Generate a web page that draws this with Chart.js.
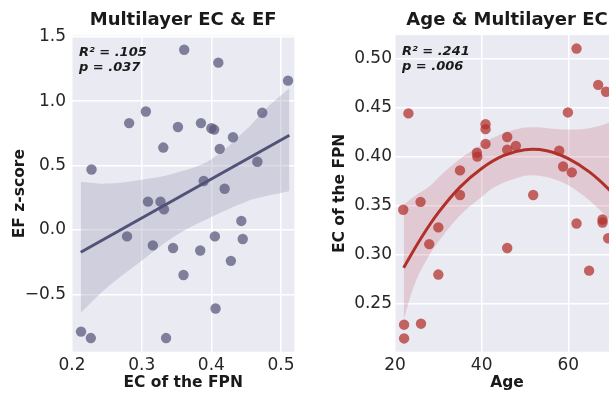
<!DOCTYPE html>
<html>
<head>
<meta charset="utf-8">
<script src="https://cdn.jsdelivr.net/npm/chart.js@4.4.1/dist/chart.umd.min.js"></script>
<style>
  html, body { margin: 0; padding: 0; background: #fff; overflow: hidden; }
  #wrap { position: relative; width: 609px; height: 394px; overflow: hidden; }
  #left { position: absolute; left: 0; top: 0; }
  #right { position: absolute; left: 300px; top: 0; }
</style>
</head>
<body>
<div id="wrap">
  <canvas id="left" width="300" height="394"></canvas>
  <canvas id="right" width="330" height="394"></canvas>
</div>
<script>
// ─── LEFT PANEL: EC of the FPN vs EF z-score ────────────────────
const ecFpn = [0.361, 0.410, 0.510, 0.306, 0.282, 0.473, 0.352, 0.385, 0.400, 0.404, 0.431,
  0.331, 0.412, 0.228, 0.466, 0.389, 0.419, 0.309, 0.327, 0.332, 0.443, 0.279, 0.316,
  0.405, 0.445, 0.345, 0.384, 0.428, 0.360, 0.406, 0.213, 0.227, 0.335];
const efZ = [1.40, 1.30, 1.16, 0.92, 0.83, 0.91, 0.80, 0.83, 0.79, 0.78, 0.72,
  0.64, 0.63, 0.47, 0.53, 0.38, 0.32, 0.22, 0.22, 0.16, 0.07, -0.05, -0.12,
  -0.05, -0.07, -0.14, -0.16, -0.24, -0.35, -0.61, -0.79, -0.84, -0.84];
const efFitX = [0.2125, 0.512];
const efFitY = [-0.173, 0.736];
const efBandX = [0.2125, 0.25, 0.30, 0.35, 0.40, 0.45, 0.48, 0.512];
const efBandHi = [0.373, 0.36, 0.39, 0.445, 0.55, 0.78, 0.95, 1.10];
const efBandLo = [-0.644, -0.45, -0.24, -0.04, 0.10, 0.22, 0.265, 0.30];
const efXTicks = [0.2, 0.3, 0.4, 0.5];
const efXLabels = ['0.2', '0.3', '0.4', '0.5'];
const efYTicks = [-0.5, 0, 0.5, 1.0, 1.5];
const efYLabels = ['\u22120.5', '0.0', '0.5', '1.0', '1.5'];
const efStats = ['R\u00b2 = .105', 'p = .037'];

// ─── RIGHT PANEL: Age vs EC of the FPN ──────────────────────────
const age = [23.1, 59.9, 40.9, 40.9, 40.9, 38.9, 39.0, 45.9, 45.9, 47.9, 57.9,
  58.8, 60.8, 35.0, 35.0, 51.9, 25.9, 21.9, 30.0, 27.9, 45.9, 30.0, 61.9,
  64.8, 67.9, 67.9, 69.2, 61.9, 66.9, 68.7, 22.1, 22.1, 26.0];
const ecAge = [0.444, 0.445, 0.433, 0.428, 0.413, 0.404, 0.400, 0.420, 0.407, 0.411, 0.406,
  0.390, 0.384, 0.386, 0.361, 0.361, 0.354, 0.346, 0.328, 0.311, 0.307, 0.280, 0.332,
  0.284, 0.336, 0.333, 0.317, 0.510, 0.473, 0.466, 0.229, 0.215, 0.230];
const ageFitX = [22, 26, 30, 35, 40, 45, 50, 55, 60, 65, 70, 72];
const ageFitY = [0.287, 0.317, 0.343, 0.369, 0.388, 0.401, 0.407, 0.406, 0.398, 0.384, 0.364, 0.354];
const ageBandX = [22, 24.6, 27.7, 31.5, 35.4, 40, 43, 48, 52, 58, 63, 67.7, 72];
const ageBandHi = [0.351, 0.360, 0.369, 0.385, 0.399, 0.412, 0.420, 0.428, 0.430, 0.428, 0.428, 0.432, 0.440];
const ageBandLo = [0.234, 0.271, 0.298, 0.322, 0.342, 0.359, 0.369, 0.378, 0.381, 0.375, 0.362, 0.344, 0.325];
const ageXTicks = [20, 40, 60];
const ageXLabels = ['20', '40', '60'];
const ageYTicks = [0.25, 0.30, 0.35, 0.40, 0.45, 0.50];
const ageYLabels = ['0.25', '0.30', '0.35', '0.40', '0.45', '0.50'];
const ageStats = ['R\u00b2 = .241', 'p = .006'];

Chart.defaults.font.family = "'DejaVu Sans', sans-serif";
Chart.defaults.color = '#262626';

const zip = (xs, ys) => xs.map((x, i) => ({ x, y: ys[i] }));
const labelFor = (ticks, labels) => (v) => {
  const i = ticks.findIndex(t => Math.abs(t - v) < 1e-9);
  return i < 0 ? '' : labels[i];
};

// seaborn darkgrid face
const panelBg = {
  id: 'panelBg',
  beforeDraw(chart) {
    const { ctx, chartArea: a } = chart;
    ctx.save();
    ctx.fillStyle = '#eaeaf2';
    ctx.fillRect(a.left, a.top, a.right - a.left, a.bottom - a.top);
    ctx.restore();
  },
};

// R² / p text in the upper-left corner
const statsText = {
  id: 'statsText',
  afterDraw(chart, args, opts) {
    const { ctx, chartArea: a } = chart;
    ctx.save();
    ctx.font = "italic bold 13px 'DejaVu Sans'";
    ctx.fillStyle = '#1a1a1a';
    ctx.textBaseline = 'middle';
    opts.lines.forEach((t, i) => ctx.fillText(t, a.left + opts.dx, a.top + opts.dy + i * opts.gap));
    ctx.restore();
  },
};

function makePanel(id, p) {
  return new Chart(document.getElementById(id), {
    type: 'scatter',
    data: {
      datasets: [
        {
          type: 'line', data: zip(p.bandX, p.bandHi), borderWidth: 0, pointRadius: 0,
          backgroundColor: p.bandColor, fill: '+1', tension: 0.4, order: 4,
        },
        {
          type: 'line', data: zip(p.bandX, p.bandLo), borderWidth: 0, pointRadius: 0,
          fill: false, tension: 0.4, order: 5,
        },
        {
          data: zip(p.x, p.y), pointRadius: 5.2, pointHoverRadius: 5.2, pointBorderWidth: 0,
          pointBackgroundColor: p.pointColor, order: 3,
        },
        {
          type: 'line', data: zip(p.fitX, p.fitY), borderColor: p.lineColor, borderWidth: 3,
          pointRadius: 0, fill: false, tension: 0.4, order: 1,
        },
      ],
    },
    options: {
      responsive: false,
      animation: false,
      layout: { padding: { left: 0, right: p.padRight, top: 0, bottom: 0 } },
      plugins: {
        legend: { display: false },
        tooltip: { enabled: false },
        title: {
          display: true, text: p.title, fullSize: false,
          font: { size: 18, weight: 'bold', lineHeight: 1.2 },
          padding: { top: 9.5, bottom: p.titleGap }, color: '#1a1a1a',
        },
        statsText: { lines: p.stats, dx: 7, dy: 17, gap: 15 },
      },
      scales: {
        x: {
          type: 'linear', min: p.xMin, max: p.xMax,
          afterBuildTicks: (s) => { s.ticks = p.xTicks.map(v => ({ value: v })); },
          afterFit: (s) => { s.height = 394 - p.bottom; },
          grid: { color: '#ffffff', lineWidth: 1.5, drawTicks: false },
          border: { display: false },
          ticks: { font: { size: 17 }, padding: 4, callback: labelFor(p.xTicks, p.xLabels) },
          title: {
            display: true, text: p.xTitle, color: '#1a1a1a',
            font: { size: 15.5, weight: 'bold', lineHeight: 1.2 }, padding: { top: 0, bottom: 1.4 },
          },
        },
        y: {
          type: 'linear', min: p.yMin, max: p.yMax,
          afterBuildTicks: (s) => { s.ticks = p.yTicks.map(v => ({ value: v })); },
          afterFit: (s) => { s.width = p.left; },
          grid: { color: '#ffffff', lineWidth: 1.5, drawTicks: false },
          border: { display: false },
          ticks: { font: { size: 17 }, padding: p.tickPad, callback: labelFor(p.yTicks, p.yLabels) },
          title: {
            display: true, text: p.yTitle, color: '#1a1a1a',
            font: { size: 15.5, weight: 'bold', lineHeight: 1.2 }, padding: { top: p.yTitleX - 9.3, bottom: 0 },
          },
        },
      },
    },
    plugins: [panelBg, statsText],
  });
}

makePanel('left', {
  title: 'Multilayer EC & EF', xTitle: 'EC of the FPN', yTitle: 'EF z-score',
  x: ecFpn, y: efZ, fitX: efFitX, fitY: efFitY,
  bandX: efBandX, bandHi: efBandHi, bandLo: efBandLo,
  xTicks: efXTicks, xLabels: efXLabels, yTicks: efYTicks, yLabels: efYLabels,
  stats: efStats,
  xMin: 0.2, xMax: 0.519, yMin: -0.946, yMax: 1.51,
  left: 72, padRight: 5.7, bottom: 351.7, titleGap: 4.5, tickPad: 6, yTitleX: 20,
  pointColor: 'rgba(86, 86, 122, 0.72)', lineColor: '#525278', bandColor: 'rgba(150, 150, 178, 0.32)',
});

makePanel('right', {
  title: 'Age & Multilayer EC', xTitle: 'Age', yTitle: 'EC of the FPN',
  x: age, y: ecAge, fitX: ageFitX, fitY: ageFitY,
  bandX: ageBandX, bandHi: ageBandHi, bandLo: ageBandLo,
  xTicks: ageXTicks, xLabels: ageXLabels, yTicks: ageYTicks, yLabels: ageYLabels,
  stats: ageStats,
  xMin: 20, xMax: 71.7, yMin: 0.2015, yMax: 0.5237,
  left: 95, padRight: 11, bottom: 351.7, titleGap: 4, tickPad: 3, yTitleX: 40,
  pointColor: 'rgba(178, 50, 45, 0.74)', lineColor: '#b0302a', bandColor: 'rgba(200, 110, 122, 0.26)',
});
</script>
</body>
</html>
